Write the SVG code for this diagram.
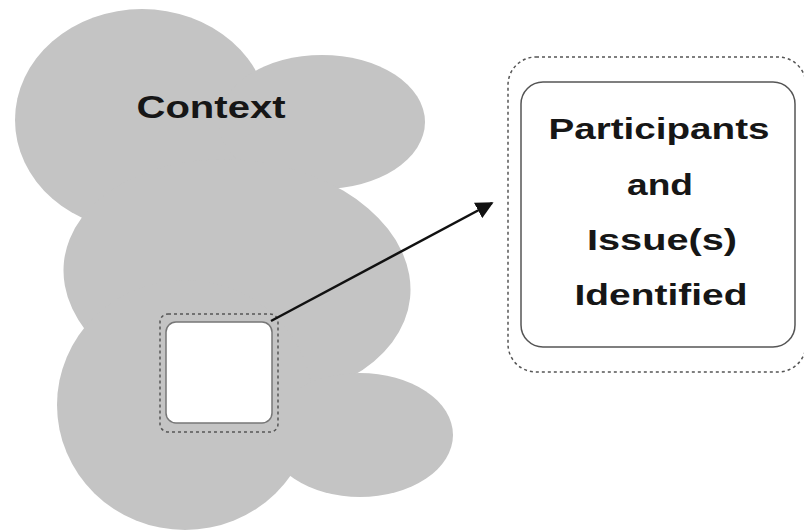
<svg xmlns="http://www.w3.org/2000/svg" width="804" height="531" viewBox="0 0 804 531">
  <style>
    .cloud { fill: #c4c4c4; stroke: none; }
    .dotted { fill: none; stroke: #555; stroke-width: 1.5; stroke-dasharray: 3 3; }
    .lbl { font-family: "Liberation Sans", Arial, sans-serif; font-weight: bold; fill: #161616; text-anchor: middle; }
  </style>
  <defs>
    <marker id="arrow" viewBox="0 0 10 10" refX="9" refY="5" markerWidth="7" markerHeight="7" markerUnits="strokeWidth" orient="auto">
      <path d="M0,0 L10,5 L0,10 z" fill="#111"/>
    </marker>
  </defs>
  <rect width="804" height="531" fill="#fff"/>

  <g id="context">
    <ellipse class="cloud" cx="142" cy="120" rx="127" ry="111"/>
    <ellipse class="cloud" cx="322" cy="122" rx="103" ry="67"/>
    <ellipse class="cloud" cx="237" cy="280" rx="174" ry="120" transform="rotate(6 237 280)"/>
    <ellipse class="cloud" cx="185" cy="405" rx="128" ry="125"/>
    <ellipse class="cloud" cx="360" cy="435" rx="93" ry="62"/>
    <text class="lbl" x="211" y="118" font-size="32" textLength="149" lengthAdjust="spacingAndGlyphs">Context</text>
  </g>

  <g id="focus">
    <rect class="dotted" x="160" y="314" width="118" height="118" rx="8"/>
    <rect x="166" y="322" width="106" height="101" rx="10" fill="#fff" stroke="#777" stroke-width="1.5"/>
  </g>

  <g id="connectors">
    <line x1="271" y1="321" x2="492" y2="203" stroke="#111" stroke-width="2.5" marker-end="url(#arrow)"/>
  </g>

  <g id="detail">
    <rect class="dotted" x="508" y="57" width="298" height="315" rx="28"/>
    <rect x="521" y="82" width="274" height="265" rx="22" fill="#fff" stroke="#555" stroke-width="1.5"/>
    <text class="lbl" x="659" y="139" font-size="29" textLength="221" lengthAdjust="spacingAndGlyphs">Participants</text>
    <text class="lbl" x="660" y="195" font-size="29" textLength="66" lengthAdjust="spacingAndGlyphs">and</text>
    <text class="lbl" x="662" y="250" font-size="29" textLength="150" lengthAdjust="spacingAndGlyphs">Issue(s)</text>
    <text class="lbl" x="661" y="305" font-size="29" textLength="173" lengthAdjust="spacingAndGlyphs">Identified</text>
  </g>
</svg>
